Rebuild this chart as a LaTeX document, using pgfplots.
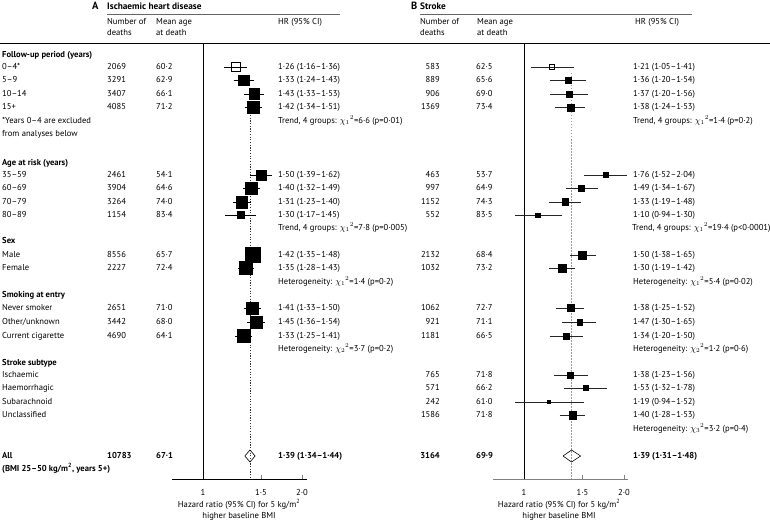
\documentclass[border=0pt]{standalone}
\usepackage{pgfplots}
\pgfplotsset{compat=1.18}
\usepackage{fontspec}
\setmainfont{PT Sans}

% one table row of text: y, deaths, mean age, HR (95% CI)
\newcommand{\rowA}[4]{\node[L] at (107,#1) {#2}; \node[L] at (156,#1) {#3}; \node[L] at (278,#1) {#4};}
\newcommand{\rowB}[4]{\node[R] at (440,#1) {#2}; \node[L] at (476,#1) {#3}; \node[L] at (633,#1) {#4};}
\newcommand{\chisq}[1]{$\chi_{#1}{}^{2}$}

\pgfplotsset{
  forest/.style={
    scale only axis, width=135pt, height=436pt,
    ymin=-479, ymax=-43,
    axis x line*=bottom, axis y line=none,
    x axis line style={-},
    xtick={1,1.5,2}, xticklabels={1,1·5,2·0}, minor xtick={},
    xtick align=inside, major tick length=4pt,
    xticklabel style={anchor=mid, inner sep=0pt, yshift=-14pt},
    clip=false,
  },
  sq/.style={scatter, only marks, mark=square*,
    scatter/use mapped color={draw=black, fill=black},
    visualization depends on={value \thisrow{h} \as \ms},
    scatter/@pre marker code/.append style={/tikz/mark size=\ms}},
}

\begin{document}
\fontsize{8.6}{10.3}\selectfont
\begin{tikzpicture}[
  L/.style={anchor=mid west, inner sep=0pt},
  R/.style={anchor=mid east, inner sep=0pt},
  C/.style={anchor=mid, inner sep=0pt},
]
\useasboundingbox (0,0) rectangle (770pt,523pt);

% text layer: one unit = one pixel of the reference, y downwards
\begin{axis}[at={(0pt,0pt)}, anchor=south west, scale only axis,
  width=770pt, height=523pt, xmin=0, xmax=770, ymin=0, ymax=523,
  y dir=reverse, hide axis, clip=false]

% headers
\node[L, font=\bfseries\fontsize{10.5}{12}\selectfont] at (92,7) {A};
\node[L, font=\bfseries\fontsize{9.3}{11}\selectfont] at (107,7) {Ischaemic heart disease};
\draw[black!60, line width=0.6pt] (107,14) -- (340,14);
\node[L] at (107,22) {Number of}; \node[L] at (107,33) {deaths};
\node[L] at (156,22) {Mean age}; \node[L] at (156,33) {at death};
\node[L] at (278,22) {HR (95\% CI)};

\node[L, font=\bfseries\fontsize{10.5}{12}\selectfont] at (411,7) {B};
\node[L, font=\bfseries\fontsize{9.3}{11}\selectfont] at (420,7) {Stroke};
\draw[black!60, line width=0.6pt] (420,14) -- (692,14);
\node[L] at (420,22) {Number of}; \node[L] at (420,33) {deaths};
\node[L] at (477,22) {Mean age}; \node[L] at (477,33) {at death};
\node[L] at (635,22) {HR (95\% CI)};

\draw[black, line width=0.8pt] (0,43) -- (770,43);

% row labels
\node[L, font=\bfseries] at (2,55) {Follow-up period (years)};
\node[L] at (2,67) {0–4*};
\node[L] at (2,80.5) {5–9};
\node[L] at (2,94) {10–14};
\node[L] at (2,107.5) {15+};
\node[L] at (2,121) {*Years 0–4 are excluded};
\node[L] at (2,134) {from analyses below};
\node[L, font=\bfseries] at (2,163) {Age at risk (years)};
\node[L] at (2,175) {35–59};
\node[L] at (2,188) {60–69};
\node[L] at (2,202) {70–79};
\node[L] at (2,215) {80–89};
\node[L, font=\bfseries] at (2,241) {Sex};
\node[L] at (2,255) {Male};
\node[L] at (2,268) {Female};
\node[L, font=\bfseries] at (2,295) {Smoking at entry};
\node[L] at (2,308) {Never smoker};
\node[L] at (2,322) {Other/unknown};
\node[L] at (2,336) {Current cigarette};
\node[L, font=\bfseries] at (2,363) {Stroke subtype};
\node[L] at (2,375) {Ischaemic};
\node[L] at (2,388) {Haemorrhagic};
\node[L] at (2,402) {Subarachnoid};
\node[L] at (2,415) {Unclassified};
\node[L, font=\bfseries] at (2,456) {All};
\node[L, font=\bfseries] at (2,469) {(BMI 25–50 kg/m\textsuperscript{2}, years 5+)};

% panel A columns
\rowA{67}{2069}{60·2}{1·26 (1·16–1·36)}
\rowA{80.5}{3291}{62·9}{1·33 (1·24–1·43)}
\rowA{94}{3407}{66·1}{1·43 (1·33–1·53)}
\rowA{107.5}{4085}{71·2}{1·42 (1·34–1·51)}
\node[L] at (278,121) {Trend, 4 groups: \chisq{1}=6·6 (p=0·01)};
\rowA{175}{2461}{54·1}{1·50 (1·39–1·62)}
\rowA{188}{3904}{64·6}{1·40 (1·32–1·49)}
\rowA{202}{3264}{74·0}{1·31 (1·23–1·40)}
\rowA{215}{1154}{83·4}{1·30 (1·17–1·45)}
\node[L] at (278,228) {Trend, 4 groups: \chisq{1}=7·8 (p=0·005)};
\rowA{255}{8556}{65·7}{1·42 (1·35–1·48)}
\rowA{268}{2227}{72·4}{1·35 (1·28–1·43)}
\node[L] at (278,282) {Heterogeneity: \chisq{1}=1·4 (p=0·2)};
\rowA{308}{2651}{71·0}{1·41 (1·33–1·50)}
\rowA{322}{3442}{68·0}{1·45 (1·36–1·54)}
\rowA{336}{4690}{64·1}{1·33 (1·25–1·41)}
\node[L] at (278,349) {Heterogeneity: \chisq{2}=3·7 (p=0·2)};
\rowA{456}{\textbf{10783}}{\textbf{67·1}}{\textbf{1·39 (1·34–1·44)}}

% panel B columns
\rowB{67}{583}{62·5}{1·21 (1·05–1·41)}
\rowB{80.5}{889}{65·6}{1·36 (1·20–1·54)}
\rowB{94}{906}{69·0}{1·37 (1·20–1·56)}
\rowB{107.5}{1369}{73·4}{1·38 (1·24–1·53)}
\node[L] at (633,121) {Trend, 4 groups: \chisq{1}=1·4 (p=0·2)};
\rowB{175}{463}{53·7}{1·76 (1·52–2·04)}
\rowB{188}{997}{64·9}{1·49 (1·34–1·67)}
\rowB{202}{1152}{74·3}{1·33 (1·19–1·48)}
\rowB{215}{552}{83·5}{1·10 (0·94–1·30)}
\node[L] at (632,228) {Trend, 4 groups: \chisq{1}=19·4 (p<0·0001)};
\rowB{255}{2132}{68·4}{1·50 (1·38–1·65)}
\rowB{268}{1032}{73·2}{1·30 (1·19–1·42)}
\node[L] at (633,282) {Heterogeneity: \chisq{1}=5·4 (p=0·02)};
\rowB{308}{1062}{72·7}{1·38 (1·25–1·52)}
\rowB{322}{921}{71·1}{1·47 (1·30–1·65)}
\rowB{336}{1181}{66·5}{1·34 (1·20–1·50)}
\node[L] at (633,349) {Heterogeneity: \chisq{2}=1·2 (p=0·6)};
\rowB{375}{765}{71·8}{1·38 (1·23–1·56)}
\rowB{388}{571}{66·2}{1·53 (1·32–1·78)}
\rowB{402}{242}{61·0}{1·19 (0·94–1·52)}
\rowB{415}{1586}{71·8}{1·40 (1·28–1·53)}
\node[L] at (633,429) {Heterogeneity: \chisq{3}=3·2 (p=0·4)};
\rowB{456}{\textbf{3164}}{\textbf{69·9}}{\textbf{1·39 (1·31–1·48)}}

% axis titles
\node[C] at (239,505) {Hazard ratio (95\% CI) for 5 kg/m\textsuperscript{2}};
\node[C] at (239,516) {higher baseline BMI};
\node[C] at (559,505) {Hazard ratio (95\% CI) for 5 kg/m\textsuperscript{2}};
\node[C] at (559,516) {higher baseline BMI};
\end{axis}

% ---------------- A: ischaemic heart disease
\begin{axis}[xmode=log, forest, at={(172pt,44pt)}, anchor=south west,
  xmin=0.805, xmax=2.071]
\draw[black!80, line width=0.7pt, dash pattern=on 1.2pt off 1.5pt]
  (axis cs:1.39,-88) -- (axis cs:1.39,-479);
\draw[black, line width=0.8pt] (axis cs:1,-43) -- (axis cs:1,-479);
% 95% CIs
\addplot[black, line width=0.7pt, unbounded coords=jump] coordinates {
  (1.16,-67) (1.36,-67) (1,nan)
  (1.24,-80.5) (1.43,-80.5) (1,nan)
  (1.33,-94) (1.53,-94) (1,nan)
  (1.34,-107.5) (1.51,-107.5) (1,nan)
  (1.39,-175) (1.62,-175) (1,nan)
  (1.32,-188) (1.49,-188) (1,nan)
  (1.23,-202) (1.40,-202) (1,nan)
  (1.17,-215) (1.45,-215) (1,nan)
  (1.35,-255) (1.48,-255) (1,nan)
  (1.28,-268) (1.43,-268) (1,nan)
  (1.33,-308) (1.50,-308) (1,nan)
  (1.36,-322) (1.54,-322) (1,nan)
  (1.25,-336) (1.41,-336)
};
% hazard ratios, h = half the side of the box
\addplot[sq] table[x=hr, y=y] {
hr    y      h
1.33  -80.5  5.2
1.43  -94    5.3
1.42  -107.5 5.8
1.50  -175   5.0
1.40  -188   5.8
1.31  -202   5.8
1.30  -215   3.4
1.42  -255   7.5
1.35  -268   6.6
1.41  -308   5.8
1.45  -322   5.8
1.33  -336   6.6
};
\addplot[only marks, mark=square, mark size=4.5pt, mark options={black, line width=0.6pt}]
  coordinates {(1.26,-67)};
\addplot[gray!70, line width=0.8pt] coordinates {(1.36,-255) (1.47,-255)};
% overall
\addplot[black, line width=0.6pt] coordinates {
  (1.34,-456) (1.39,-450) (1.44,-456) (1.39,-462) (1.34,-456)};
\end{axis}

% ---------------- B: stroke
\begin{axis}[xmode=log, forest, at={(493pt,44pt)}, anchor=south west,
  xmin=0.8066, xmax=2.056,
  x axis line style={gray, line width=0.8pt}, xtick style={gray}]
\draw[gray!80, line width=0.9pt, dash pattern=on 1.5pt off 1.5pt]
  (axis cs:1.39,-73) -- (axis cs:1.39,-479);
\draw[black, line width=0.8pt] (axis cs:1,-43) -- (axis cs:1,-479);
\addplot[black!85, line width=0.7pt, unbounded coords=jump] coordinates {
  (1.05,-67) (1.41,-67) (1,nan)
  (1.20,-80.5) (1.54,-80.5) (1,nan)
  (1.20,-94) (1.56,-94) (1,nan)
  (1.24,-107.5) (1.53,-107.5) (1,nan)
  (1.52,-175) (2.04,-175) (1,nan)
  (1.34,-188) (1.67,-188) (1,nan)
  (1.19,-202) (1.48,-202) (1,nan)
  (0.94,-215) (1.30,-215) (1,nan)
  (1.38,-255) (1.65,-255) (1,nan)
  (1.19,-268) (1.42,-268) (1,nan)
  (1.25,-308) (1.52,-308) (1,nan)
  (1.30,-322) (1.65,-322) (1,nan)
  (1.20,-336) (1.50,-336) (1,nan)
  (1.23,-375) (1.56,-375) (1,nan)
  (1.32,-388) (1.78,-388) (1,nan)
  (0.94,-402) (1.52,-402) (1,nan)
  (1.28,-415) (1.53,-415)
};
\addplot[sq] table[x=hr, y=y] {
hr    y      h
1.36  -80.5  3.0
1.37  -94    3.0
1.38  -107.5 3.7
1.76  -175   2.4
1.49  -188   2.9
1.33  -202   3.4
1.10  -215   2.2
1.50  -255   3.9
1.30  -268   3.9
1.38  -308   3.5
1.47  -322   2.9
1.34  -336   3.0
1.38  -375   3.0
1.53  -388   2.4
1.19  -402   1.5
1.40  -415   3.7
};
\addplot[only marks, mark=square, mark size=2.4pt, mark options={black, line width=0.5pt}]
  coordinates {(1.21,-67)};
\addplot[black, line width=0.6pt] coordinates {
  (1.31,-456) (1.39,-450) (1.48,-456) (1.39,-462) (1.31,-456)};
\end{axis}
\end{tikzpicture}
\end{document}
